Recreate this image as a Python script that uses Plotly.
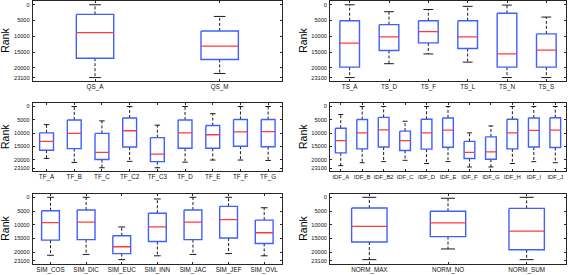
import plotly.graph_objects as go

# ---------------- data (rank statistics) ----------------
qs_labels = ["QS_A", "QS_M"]
qs_wlo = [0, 3700]
qs_q1 = [3050, 8300]
qs_med = [8850, 13150]
qs_q3 = [16950, 17350]
qs_whi = [23100, 21800]

ts_labels = ["TS_A", "TS_D", "TS_F", "TS_L", "TS_N", "TS_S"]
ts_wlo = [0, 2200, 1500, 500, 100, 3900]
ts_q1 = [5050, 6300, 5050, 5050, 2700, 9250]
ts_med = [12200, 10200, 8500, 10200, 15600, 14400]
ts_q3 = [19800, 14500, 12100, 13900, 19800, 19800]
ts_whi = [23100, 18700, 15600, 18200, 23100, 23100]

tf_labels = ["TF_A", "TF_B", "TF_C", "TF_C2", "TF_C3", "TF_D", "TF_E", "TF_F", "TF_G"]
tf_wlo = [6800, 0, 5400, 0, 7000, 0, 2700, 0, 0]
tf_q1 = [9900, 5050, 10100, 4300, 11700, 5050, 7150, 4900, 4900]
tf_med = [13100, 10100, 17200, 9100, 17900, 9900, 10600, 9500, 9400]
tf_q3 = [16400, 15800, 19900, 15200, 20700, 15700, 15700, 14900, 15100]
tf_whi = [19500, 21000, 23000, 20600, 23000, 20900, 20100, 20100, 20250]

idf_labels = ["IDF_A", "IDF_B", "IDF_B2", "IDF_C", "IDF_D", "IDF_E",
              "IDF_F", "IDF_G", "IDF_H", "IDF_I", "IDF_J"]
idf_wlo = [3000, 0, 0, 5550, 0, 0, 9900, 7300, 0, 0, 0]
idf_q1 = [8150, 4900, 4100, 9250, 4800, 4300, 13100, 11400, 4800, 4300, 4200]
idf_med = [12800, 9900, 8800, 12800, 9900, 8900, 17200, 17000, 9900, 9000, 8900]
idf_q3 = [17400, 15900, 15200, 16500, 16000, 15300, 19500, 19800, 15900, 15200, 15400]
idf_whi = [22200, 21100, 20700, 20200, 21400, 20700, 22700, 22700, 21400, 20700, 21100]

sim_labels = ["SIM_COS", "SIM_DIC", "SIM_EUC", "SIM_INN", "SIM_JAC", "SIM_JEF", "SIM_OVL"]
sim_wlo = [0, 0, 10800, 600, 0, 0, 3800]
sim_q1 = [4900, 4650, 14000, 5800, 4650, 3300, 8300]
sim_med = [9200, 9050, 18000, 10800, 9050, 8100, 12900]
sim_q3 = [15600, 15400, 20500, 16100, 15400, 14800, 16800]
sim_whi = [21100, 20800, 22700, 21300, 20800, 20500, 21300]

norm_labels = ["NORM_MAX", "NORM_NO", "NORM_SUM"]
norm_wlo = [0, 350, 0]
norm_q1 = [3900, 5100, 4050]
norm_med = [10600, 9300, 12300]
norm_q3 = [16300, 14300, 19100]
norm_whi = [22700, 18800, 22700]

rank_tickvals = [0, 5000, 10000, 15000, 20000, 23100]
rank_ticktext = ["0", "5000", "10000", "15000", "20000", "23100"]

panels = [
    (qs_labels, qs_wlo, qs_q1, qs_med, qs_q3, qs_whi),
    (ts_labels, ts_wlo, ts_q1, ts_med, ts_q3, ts_whi),
    (tf_labels, tf_wlo, tf_q1, tf_med, tf_q3, tf_whi),
    (idf_labels, idf_wlo, idf_q1, idf_med, idf_q3, idf_whi),
    (sim_labels, sim_wlo, sim_q1, sim_med, sim_q3, sim_whi),
    (norm_labels, norm_wlo, norm_q1, norm_med, norm_q3, norm_whi),
]

# ---------------- styles / layout ----------------
W, H = 568, 275
box_w = [0.3, 0.5, 0.5, 0.5, 0.5, 0.45]
cap_w = [0.094, 0.25, 0.2, 0.23, 0.19, 0.178]
xfont = [6.3, 6.3, 6.3, 5.9, 6.3, 6.3]
col_px = [(32.7, 282.0), (330.0, 566.0)]
row_px = [(1.0, 80.7), (103.3, 170.7), (194.0, 263.5)]

BOX_C = "#3f5fff"
MED_C = "#ff3b3b"
AX_C = "#262626"
FONT = "Liberation Sans, Arial, sans-serif"

fig = go.Figure()

for i, (labels, wlo, q1, med, q3, whi) in enumerate(panels):
    n = len(labels)
    pos = list(range(1, n + 1))
    xa = "x" if i == 0 else f"x{i+1}"
    ya = "y" if i == 0 else f"y{i+1}"
    hb = box_w[i] / 2
    hc = cap_w[i] / 2

    bx, by, mx, my, wx, wy, cx, cy = [], [], [], [], [], [], [], []
    for p, a, b, m, c, d in zip(pos, wlo, q1, med, q3, whi):
        bx += [p - hb, p + hb, p + hb, p - hb, p - hb, None]
        by += [b, b, c, c, b, None]
        mx += [p - hb, p + hb, None]
        my += [m, m, None]
        wx += [p, p, None, p, p, None]
        wy += [b, a, None, c, d, None]
        cx += [p - hc, p + hc, None, p - hc, p + hc, None]
        cy += [a, a, None, d, d, None]

    common = dict(xaxis=xa, yaxis=ya, mode="lines", showlegend=False, hoverinfo="skip")
    fig.add_trace(go.Scatter(x=wx, y=wy, line=dict(color="black", width=0.9, dash="3px,2px"), **common))
    fig.add_trace(go.Scatter(x=cx, y=cy, line=dict(color="black", width=0.9), **common))
    fig.add_trace(go.Scatter(x=bx, y=by, line=dict(color=BOX_C, width=1.4), **common))
    fig.add_trace(go.Scatter(x=mx, y=my, line=dict(color=MED_C, width=1.3), **common))

    r, c = divmod(i, 2)
    x0, x1 = col_px[c]
    y0, y1 = row_px[r]
    xdom = [x0 / W, x1 / W]
    ydom = [1 - y1 / H, 1 - y0 / H]

    fig.layout[("xaxis" if i == 0 else f"xaxis{i+1}")] = dict(
        domain=xdom, anchor=ya, range=[0.5, n + 0.5],
        tickmode="array", tickvals=pos, ticktext=labels, tickangle=0,
        showline=True, linecolor=AX_C, linewidth=1, mirror="ticks",
        ticks="inside", ticklen=2, tickcolor=AX_C, showgrid=False, zeroline=False,
        tickfont=dict(family=FONT, size=xfont[i], color="#111111"),
        ticklabelstandoff=0,
    )
    fig.layout[("yaxis" if i == 0 else f"yaxis{i+1}")] = dict(
        domain=ydom, anchor=xa, range=[24100, -1200],
        tickmode="array", tickvals=rank_tickvals, ticktext=rank_ticktext,
        showline=True, linecolor=AX_C, linewidth=1, mirror="ticks",
        ticks="inside", ticklen=2, tickcolor=AX_C, showgrid=False, zeroline=False,
        tickfont=dict(family=FONT, size=5.6, color="#111111"),
        ticklabelstandoff=1,
    )
    title_x = 5 if c == 0 else 303
    fig.add_annotation(
        text="Rank", textangle=-90, xref="paper", yref="paper",
        x=title_x / W, y=(ydom[0] + ydom[1]) / 2, showarrow=False,
        xanchor="center", yanchor="middle",
        font=dict(family=FONT, size=10.5, color="black"),
    )

fig.update_layout(
    width=W, height=H, margin=dict(l=0, r=0, t=0, b=0),
    paper_bgcolor="white", plot_bgcolor="white",
)

fig.write_html(
    "out.html",
    config={"displayModeBar": False, "staticPlot": True},
    post_script="document.body.style.margin='0';document.body.style.overflow='hidden';",
)
